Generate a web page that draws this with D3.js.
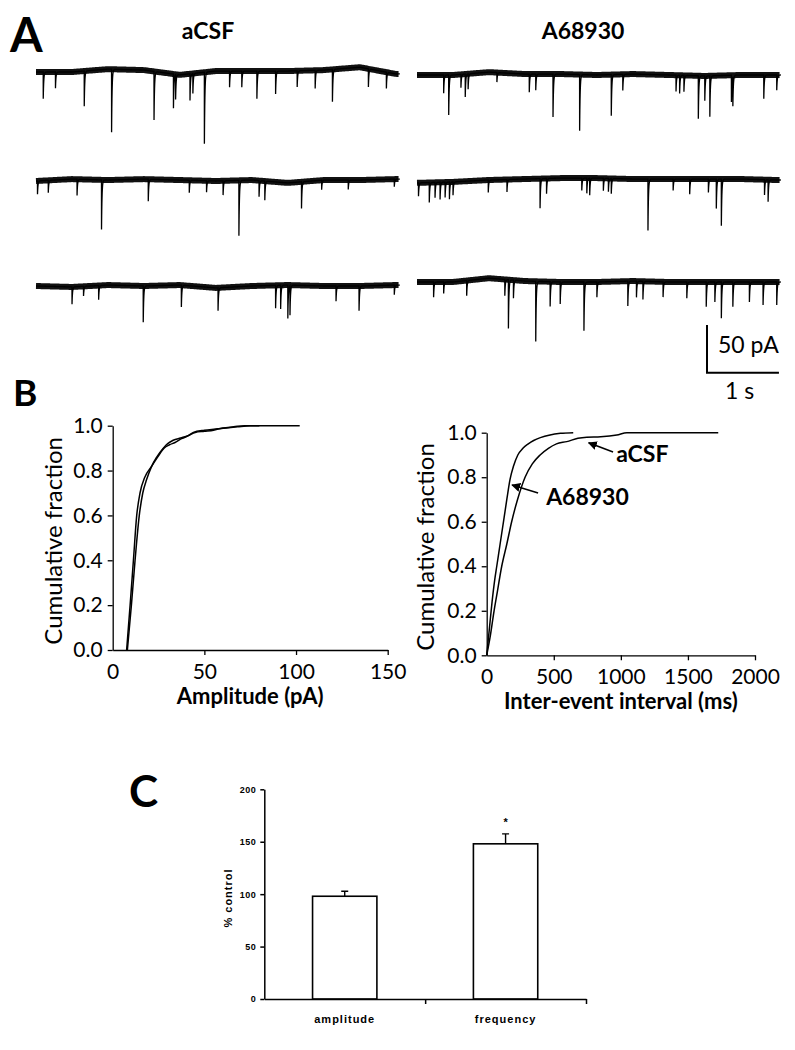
<!DOCTYPE html>
<html>
<head>
<meta charset="UTF-8">
<title>Traces, cumulative fractions and % control</title>
<script src="https://d3js.org/d3.v7.min.js"></script>
<style>
  body { margin: 0; background: #fff; }
  svg { display: block; font-family: Lato, "Open Sans", sans-serif; }
</style>
</head>
<body>
<div class="canvas"></div>
<script>
// ---------- data ----------
const traceDuration = 5.06; // s shown per sweep
const driftTimes = [0, 0.5, 1, 1.5, 2, 2.5, 3, 3.5, 4, 4.5, 5];

// events per sweep: [time (s), amplitude (pA)]
const acsfRow1 = [[0.10,28],[0.27,17],[0.67,37],[1.05,66],[1.64,51],[1.91,36],[1.94,26],[2.14,28],[2.18,21],[2.34,75],[2.69,17],[2.86,17],[3.07,29],[3.33,24],[3.63,17],[3.88,19],[4.12,34],[4.62,19],[4.87,17]];
const acsfRow2 = [[0.02,14],[0.17,13],[0.57,17],[0.91,52],[1.56,23],[2.13,13],[2.37,12],[2.60,15],[2.82,58],[3.10,17],[3.18,20],[3.69,28],[3.97,10],[4.34,10],[4.98,8]];
const acsfRow3 = [[0.50,18],[0.66,10],[0.87,15],[1.49,38],[2.02,23],[2.53,24],[3.33,24],[3.40,25],[3.50,35],[3.53,31],[4.17,16],[4.49,26],[4.98,10]];
const drugRow1 = [[0.37,19],[0.44,42],[0.61,14],[0.67,24],[0.71,16],[1.11,10],[1.56,19],[1.65,17],[1.89,45],[2.26,59],[2.70,43],[2.86,17],[3.60,17],[3.65,19],[3.71,17],[3.91,45],[4.00,26],[4.07,43],[4.37,28],[4.39,31],[4.82,25],[5.00,16]];
const drugRow2 = [[0.02,14],[0.17,21],[0.25,16],[0.32,18],[0.39,16],[0.45,18],[0.50,14],[0.99,13],[1.25,13],[1.71,31],[1.80,16],[2.29,13],[2.36,16],[2.40,18],[2.59,13],[2.66,14],[2.70,16],[3.21,54],[3.56,12],[3.79,16],[4.05,14],[4.16,31],[4.23,49],[4.83,16],[4.88,23]];
const drugRow3 = [[0.23,16],[0.37,12],[0.69,16],[1.22,17],[1.27,51],[1.34,19],[1.65,63],[1.85,26],[1.99,23],[2.32,51],[2.50,16],[2.93,26],[3.05,17],[3.14,19],[3.42,16],[3.75,17],[4.02,26],[4.14,21],[4.23,38],[4.39,26],[4.62,21],[4.81,24],[5.00,24]];

// slow baseline drift (pA) at driftTimes
const acsfDrift1 = [0, 0, 3, 2, -3, 1, 1, 1, 2, 5, -2];
const acsfDrift2 = [0, 2, 1, 2, 1, 0, 1, -2, 1, 1, 2];
const acsfDrift3 = [0, -1, 1, 0, 1, -2, 0, 1, 0, 0, 1];
const drugDrift1 = [0, 0, 3, 1, 1, 0, 1, 0, -1, 0, 0];
const drugDrift2 = [-3, -2, 0, 1, 2, 2, 1, 1, 1, 1, 0];
const drugDrift3 = [0, 0, 4, 1, 0, 0, 1, 0, 0, 0, 0];

// cumulative amplitude (pA)
const ampAcsfX = [7.6, 9.5, 11.3, 13.1, 14.9, 17.5, 21.3, 24.5, 28, 31, 34, 37, 40, 44, 50, 56, 62, 68, 75, 102];
const ampAcsfY = [0, 0.2, 0.4, 0.6, 0.7, 0.77, 0.82, 0.86, 0.9, 0.915, 0.925, 0.94, 0.95, 0.97, 0.98, 0.985, 0.99, 0.995, 1.0, 1.0];
const ampDrugX = [8, 10.2, 12.2, 14.5, 16.4, 18.5, 21.3, 24, 27.6, 30, 33, 37, 41, 45, 50, 55, 60, 66, 72, 80];
const ampDrugY = [0, 0.2, 0.4, 0.6, 0.7, 0.76, 0.82, 0.86, 0.9, 0.92, 0.935, 0.945, 0.955, 0.97, 0.975, 0.98, 0.99, 0.995, 1.0, 1.0];

// cumulative inter-event interval (ms)
const iviAcsfX = [0, 25, 55, 75, 112, 150, 186, 230, 286, 340, 398, 460, 520, 597, 680, 746, 850, 970, 1045, 1200, 1726];
const iviAcsfY = [0, 0.08, 0.2, 0.27, 0.4, 0.5, 0.6, 0.7, 0.8, 0.86, 0.9, 0.93, 0.95, 0.96, 0.975, 0.98, 0.982, 0.99, 1.0, 1.0, 1.0];
const iviDrugX = [0, 20, 40, 60, 75, 100, 130, 150, 174, 200, 232, 270, 310, 350, 400, 472, 550, 645];
const iviDrugY = [0, 0.12, 0.24, 0.34, 0.4, 0.5, 0.62, 0.7, 0.79, 0.85, 0.9, 0.93, 0.95, 0.965, 0.978, 0.99, 0.997, 1.0];

const ampTicks = [0, 50, 100, 150];
const iviTicks = [0, 500, 1000, 1500, 2000];
const fracTicks = [0, 0.2, 0.4, 0.6, 0.8, 1.0];

const barCategories = ["amplitude", "frequency"];
const barMeans = [98, 148];
const barErrors = [4.8, 9.5];
const barMarks = ["", "*"];
const barTicks = [0, 50, 100, 150, 200];

// ---------- svg ----------
const width = 795, height = 1050;
const svg = d3.select(".canvas").append("svg")
  .attr("width", width).attr("height", height);

function panelLetter(txt, x, y, size) {
  svg.append("text").attr("x", x).attr("y", y)
    .attr("font-size", size).attr("font-weight", 700).text(txt);
}

// ---------- A: sweeps ----------
panelLetter("A", 10, 52, 47);
svg.append("text").attr("x", 208).attr("y", 39).attr("text-anchor", "middle")
  .attr("font-size", 23).attr("font-weight", 700).text("aCSF");
svg.append("text").attr("x", 583).attr("y", 39).attr("text-anchor", "middle")
  .attr("font-size", 23).attr("font-weight", 700).text("A68930");

const tScale = d3.scaleLinear().domain([0, traceDuration]).range([0, 364]);
const iScale = d3.scaleLinear().domain([0, 50]).range([0, -47.7]); // pA, up positive

const sweeps = [
  { x: 36, y: 72, events: acsfRow1, drift: acsfDrift1 },
  { x: 36, y: 181, events: acsfRow2, drift: acsfDrift2 },
  { x: 36, y: 286, events: acsfRow3, drift: acsfDrift3 },
  { x: 417, y: 75, events: drugRow1, drift: drugDrift1 },
  { x: 417, y: 180, events: drugRow2, drift: drugDrift2 },
  { x: 417, y: 282, events: drugRow3, drift: drugDrift3 }
];

const rise = 0.0008, tau = 0.007;
function kernel(dt) {
  if (dt < 0) return 0;
  if (dt < rise) return dt / rise;
  return Math.exp(-(dt - rise) / tau);
}

sweeps.forEach(s => {
  const drift = d3.scaleLinear().domain(driftTimes).range(s.drift).clamp(true);
  let times = d3.range(0, traceDuration, 0.002);
  s.events.forEach(([t0]) => {
    [0, rise, 0.003, 0.006, 0.01, 0.015, 0.022, 0.03].forEach(d => times.push(t0 + d));
  });
  times = Array.from(new Set(times.filter(t => t >= 0 && t <= traceDuration))).sort((a, b) => a - b);
  const pts = times.map(t => [t, drift(t) - d3.sum(s.events, ([t0, a]) => a * kernel(t - t0))]);

  const g = svg.append("g").attr("transform", `translate(${s.x},${s.y})`);
  const line = d3.line().x(d => tScale(d[0])).y(d => iScale(d[1]));

  // noise band
  g.append("path")
    .datum(d3.range(0, traceDuration, 0.02).map(t => [t, drift(t)]))
    .attr("d", line.curve(d3.curveBasis))
    .attr("fill", "none").attr("stroke", "#111").attr("stroke-width", 6);
  g.append("path")
    .datum(pts)
    .attr("d", d3.line().x(d => tScale(d[0])).y(d => iScale(d[1])))
    .attr("fill", "none").attr("stroke", "#000").attr("stroke-width", 1.3);
});

// scale bar
const sb = svg.append("g").attr("transform", "translate(707,372.7)");
sb.append("path")
  .attr("d", `M0,${iScale(50)}V0H${tScale(1)}`)
  .attr("fill", "none").attr("stroke", "#000").attr("stroke-width", 2);
sb.append("text").attr("x", 11).attr("y", -20).attr("font-size", 23).text("50 pA");
sb.append("text").attr("x", 18).attr("y", 26).attr("font-size", 23).text("1 s");

// ---------- B: cumulative plots ----------
panelLetter("B", 13, 406, 37);

function cdfPanel(o) {
  const x = d3.scaleLinear().domain(o.xDomain).range([o.left, o.right]);
  const y = d3.scaleLinear().domain([0, 1]).range([o.bottom, o.top]);
  const g = svg.append("g");

  const yAxis = g.append("g").attr("transform", `translate(${o.left},0)`)
    .call(d3.axisLeft(y).tickValues(fracTicks).tickFormat(d3.format(".1f")).tickSize(5).tickSizeOuter(0).tickPadding(5));
  const xAxis = g.append("g").attr("transform", `translate(0,${o.bottom})`)
    .call(d3.axisBottom(x).tickValues(o.xTicks).tickFormat(d3.format("d")).tickSize(5).tickSizeOuter(0).tickPadding(9));
  [xAxis, yAxis].forEach(a => {
    a.selectAll("path,line").attr("stroke", "#000").attr("stroke-width", 1.3);
    a.selectAll("text").attr("font-size", 21).attr("fill", "#000")
      .attr("font-family", "Lato, sans-serif");
  });
  xAxis.selectAll(".tick").filter(d => d === 0).select("line").remove();

  o.series.forEach(([xs, ys]) => {
    g.append("path")
      .datum(xs.map((v, i) => [v, ys[i]]))
      .attr("d", d3.line().x(d => x(d[0])).y(d => y(d[1])).curve(d3.curveMonotoneX))
      .attr("fill", "none").attr("stroke", "#000").attr("stroke-width", 1.5);
  });

  g.append("text")
    .attr("transform", `translate(${o.ylabX},${(o.top + o.bottom) / 2 + 3}) rotate(-90)`)
    .attr("text-anchor", "middle").attr("font-size", 24).text("Cumulative fraction");
  g.append("text").attr("x", (o.left + o.right) / 2).attr("y", o.xlabY)
    .attr("text-anchor", "middle").attr("font-size", 22).attr("font-weight", 700).text(o.xLabel);
  return { x, y, g };
}

cdfPanel({
  xDomain: [0, 150], xTicks: ampTicks, left: 112.7, right: 387.7, top: 425.7, bottom: 650,
  series: [[ampAcsfX, ampAcsfY], [ampDrugX, ampDrugY]],
  xLabel: "Amplitude (pA)", xlabY: 704, ylabX: 62
});

const ivi = cdfPanel({
  xDomain: [0, 2000], xTicks: iviTicks, left: 486.7, right: 755, top: 432.7, bottom: 655.3,
  series: [[iviAcsfX, iviAcsfY], [iviDrugX, iviDrugY]],
  xLabel: "Inter-event interval (ms)", xlabY: 709, ylabX: 434
});

// annotation arrows
svg.append("defs").append("marker")
  .attr("id", "head").attr("viewBox", "0 0 10 10").attr("refX", 9).attr("refY", 5)
  .attr("markerWidth", 9).attr("markerHeight", 9).attr("markerUnits", "userSpaceOnUse")
  .attr("orient", "auto")
  .append("path").attr("d", "M0,0L10,5L0,10Z").attr("fill", "#000");

const notes = [
  { label: "aCSF", tip: [760, 0.955], tail: [942, 0.913], text: [965, 0.868] },
  { label: "A68930", tip: [189, 0.765], tail: [383, 0.729], text: [443, 0.675] }
];
notes.forEach(n => {
  ivi.g.append("line")
    .attr("x1", ivi.x(n.tail[0])).attr("y1", ivi.y(n.tail[1]))
    .attr("x2", ivi.x(n.tip[0])).attr("y2", ivi.y(n.tip[1]))
    .attr("stroke", "#000").attr("stroke-width", 1.5).attr("marker-end", "url(#head)");
  ivi.g.append("text").attr("x", ivi.x(n.text[0])).attr("y", ivi.y(n.text[1]))
    .attr("font-size", 23).attr("font-weight", 700).text(n.label);
});

// ---------- C: bar chart ----------
panelLetter("C", 129, 807, 44);

const cLeft = 264.3, cRight = 586, cBottom = 999, cTop = 789.3;
const xBand = d3.scaleBand().domain(barCategories).range([cLeft, cRight])
  .paddingInner(0.6).paddingOuter(0.3);
const xEdge = d3.scaleLinear().domain([0, 2]).range([cLeft, cRight]);
const yBar = d3.scaleLinear().domain([0, 200]).range([cBottom, cTop]);
const c = svg.append("g").attr("font-family", "'Liberation Sans', Arial, sans-serif");

c.selectAll("rect.bar").data(barMeans).join("rect")
  .attr("class", "bar")
  .attr("x", (d, i) => xBand(barCategories[i]))
  .attr("y", d => yBar(d))
  .attr("width", xBand.bandwidth())
  .attr("height", d => cBottom - yBar(d))
  .attr("fill", "#fff").attr("stroke", "#000").attr("stroke-width", 1.6);

c.selectAll("path.err").data(barMeans).join("path")
  .attr("class", "err")
  .attr("d", (d, i) => {
    const cx = xBand(barCategories[i]) + xBand.bandwidth() / 2;
    const top = yBar(d + barErrors[i]);
    return `M${cx},${yBar(d)}V${top}M${cx - 3.5},${top}H${cx + 3.5}`;
  })
  .attr("fill", "none").attr("stroke", "#000").attr("stroke-width", 1.4);

c.selectAll("text.mark").data(barMarks).join("text")
  .attr("class", "mark")
  .attr("x", (d, i) => xBand(barCategories[i]) + xBand.bandwidth() / 2)
  .attr("y", (d, i) => yBar(barMeans[i] + barErrors[i]) - 8)
  .attr("text-anchor", "middle").attr("font-size", 11).attr("font-weight", 700).text(d => d);

const cy = c.append("g").attr("transform", `translate(${cLeft},0)`)
  .call(d3.axisLeft(yBar).tickValues(barTicks).tickSize(4).tickSizeOuter(0).tickPadding(4));
const cx = c.append("g").attr("transform", `translate(0,${cBottom})`)
  .call(d3.axisBottom(xBand).tickSize(0).tickSizeOuter(0).tickPadding(16));
c.append("g").attr("transform", `translate(0,${cBottom})`)
  .call(d3.axisBottom(xEdge).tickValues([1, 2]).tickFormat("").tickSize(5).tickSizeOuter(0))
  .select(".domain").remove();
c.selectAll(".domain, .tick line").attr("stroke", "#000").attr("stroke-width", 1.5);
cy.selectAll("text").attr("font-size", 9).attr("font-weight", 700).attr("fill", "#000")
  .attr("font-family", "'Liberation Sans', Arial, sans-serif").attr("letter-spacing", 0.5);
cx.selectAll("text").attr("font-size", 11).attr("font-weight", 700).attr("fill", "#000")
  .attr("font-family", "'Liberation Sans', Arial, sans-serif").attr("letter-spacing", 1);

c.append("text")
  .attr("transform", `translate(232,898) rotate(-90)`)
  .attr("text-anchor", "middle").attr("font-size", 11).attr("font-weight", 700)
  .attr("letter-spacing", 1).text("% control");
</script>
</body>
</html>
